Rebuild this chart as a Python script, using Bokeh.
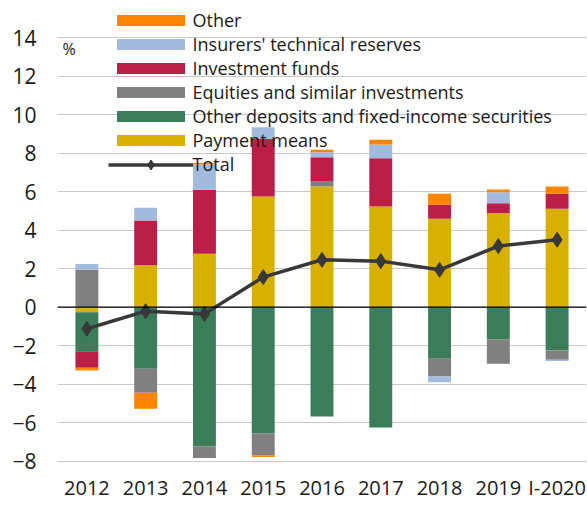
from bokeh.plotting import figure
from bokeh.models import (ColumnDataSource, Legend, LegendItem, Span, Label,
                          FixedTicker, Range1d)
from bokeh.embed import file_html
from bokeh.resources import INLINE

# ---- data ----
categories = ["2012", "2013", "2014", "2015", "2016", "2017", "2018", "2019", "I-2020"]
payment_means = [-0.26, 2.17, 2.77, 5.75, 6.27, 5.23, 4.59, 4.88, 5.11]
other_deposits = [-2.03, -3.20, -7.22, -6.55, -5.68, -6.25, -2.68, -1.68, -2.25]
equities = [1.94, -1.25, -0.62, -1.15, 0.28, 0.00, -0.92, -1.26, -0.48]
investment_funds = [-0.86, 2.33, 3.33, 3.00, 1.24, 2.51, 0.73, 0.52, 0.78]
insurers = [0.30, 0.66, 1.31, 0.60, 0.26, 0.71, -0.30, 0.57, -0.07]
other = [-0.14, -0.83, 0.09, -0.09, 0.13, 0.25, 0.57, 0.14, 0.38]
total = [-1.12, -0.21, -0.35, 1.56, 2.46, 2.39, 1.94, 3.17, 3.50]
y_ticks = [-8, -6, -4, -2, 0, 2, 4, 6, 8, 10, 12, 14]

series_names = ["Payment means", "Other deposits and fixed-income securities",
                "Equities and similar investments", "Investment funds",
                "Insurers' technical reserves", "Other"]
series_values = [payment_means, other_deposits, equities, investment_funds, insurers, other]
colors = ["#d8b100", "#3b7d58", "#808080", "#bb1f47", "#a2badd", "#ff8500"]

FONT = "Open Sans"
FRAME_H = 472
FRAME_W = 529

x = list(range(len(categories)))
data = {"x": x, "total": total}
pos_keys, neg_keys = [], []
for i, vals in enumerate(series_values):
    data[f"p{i}"] = [max(v, 0.0) for v in vals]
    data[f"n{i}"] = [min(v, 0.0) for v in vals]
    pos_keys.append(f"p{i}")
    neg_keys.append(f"n{i}")
source = ColumnDataSource(data)

p = figure(frame_width=FRAME_W, frame_height=FRAME_H, output_backend="svg",
           toolbar_location=None,
           x_range=Range1d(-0.5, len(categories) - 0.5), y_range=Range1d(-8.59, 15.93),
           min_border_left=57, min_border_right=1, min_border_top=0, min_border_bottom=0)
p.outline_line_color = None
p.background_fill_color = "white"

bw = 0.39
pos_r = p.vbar_stack(pos_keys, x="x", width=bw, color=colors, source=source, line_width=0)
neg_r = p.vbar_stack(neg_keys, x="x", width=bw, color=colors, source=source, line_width=0)

zero = Span(location=0, dimension="width", line_color="black", line_width=1.2)
p.add_layout(zero)

tl = p.line("x", "total", source=source, line_color="#383838", line_width=3.5)
ts = p.scatter("x", "total", source=source, marker="diamond", size=15,
               fill_color="#383838", line_color="#383838")

# axes
p.xaxis.ticker = FixedTicker(ticks=x)
p.xaxis.major_label_overrides = {i: c for i, c in enumerate(categories)}
p.yaxis.ticker = FixedTicker(ticks=y_ticks)
for ax in (p.xaxis, p.yaxis):
    ax.axis_line_color = None
    ax.major_tick_line_color = None
    ax.minor_tick_line_color = None
    ax.major_tick_out = 0
    ax.major_tick_in = 0
    ax.major_label_text_font = FONT
    ax.major_label_text_color = "#1a1a1a"
p.xaxis.major_label_text_font_size = "20px"
p.yaxis.major_label_text_font_size = "21px"
p.yaxis.major_label_standoff = 21
p.xaxis.major_label_standoff = 1
p.xgrid.grid_line_color = None
p.ygrid.grid_line_color = "#c8c8c8"
p.ygrid.grid_line_width = 1

pct = Label(x=-0.415, y=13.39, text="%", text_font=FONT, text_font_size="16px",
            text_color="#1a1a1a", text_baseline="middle")
p.add_layout(pct)

# legend for the bar series (order as in reference)
items = [LegendItem(label=series_names[i], renderers=[pos_r[i]]) for i in [5, 4, 3, 2, 1, 0]]
ROW_H = 24.5
legend_common = dict(orientation="vertical", glyph_width=85, spacing=0, label_standoff=0,
                     padding=0, margin=0, border_line_color=None, background_fill_alpha=0,
                     label_text_font=FONT, label_text_font_size="18px",
                     label_text_color="#1a1a1a")
legend = Legend(items=items, location=(50.5, FRAME_H - 4.75 - ROW_H * len(items)),
                glyph_height=14, label_height=24, **legend_common)
legend.level = "underlay"
p.add_layout(legend, "center")

# separate legend entry for the Total line (larger glyph box -> visible diamond)
legend_total = Legend(items=[LegendItem(label="Total", renderers=[tl, ts])],
                      location=(50.5, FRAME_H - 151.5 - 25),
                      glyph_height=25, label_height=25, **legend_common)
legend_total.level = "underlay"
p.add_layout(legend_total, "center")

open("out.html", "w").write(file_html(p, INLINE))
